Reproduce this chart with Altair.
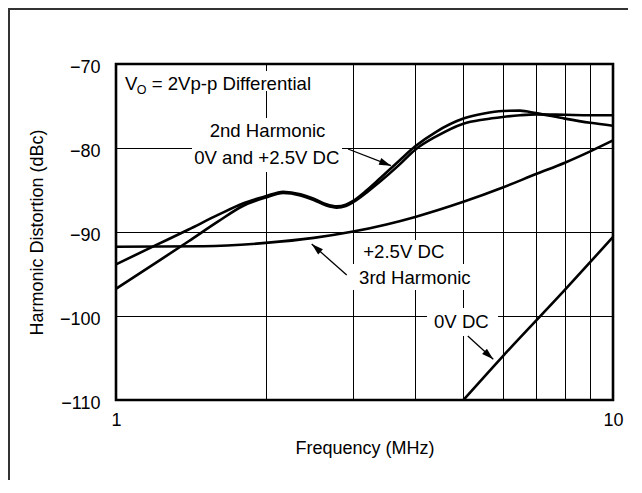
import altair as alt
import pandas as pd

FONT = "Liberation Sans, Arial, Helvetica, sans-serif"

# ---- data ----
grid_f = [1, 2, 3, 4, 5, 6, 7, 8, 9, 10]
y_ticks = [-110, -100, -90, -80, -70]

h2a_f = [1.0, 1.2, 1.4, 1.6, 1.8, 2.0, 2.17, 2.35, 2.5, 2.65, 2.78, 2.9, 3.0, 3.2, 3.4, 3.7, 4.0, 4.4, 5.0, 5.5, 6.0, 6.5, 7.0, 8.0, 9.0, 10.0]
h2a_db = [-93.85, -91.6, -89.7, -88.0, -86.6, -85.75, -85.2, -85.5, -86.05, -86.7, -86.95, -86.75, -86.3, -85.0, -83.6, -81.6, -79.8, -78.1, -76.5, -75.9, -75.6, -75.55, -75.85, -76.5, -77.0, -77.35]

h2b_f = [1.0, 1.2, 1.4, 1.6, 1.8, 2.0, 2.17, 2.35, 2.5, 2.65, 2.78, 2.9, 3.0, 3.2, 3.4, 3.7, 4.0, 4.4, 5.0, 5.5, 6.0, 6.5, 7.0, 8.0, 9.0, 10.0]
h2b_db = [-96.75, -93.7, -91.1, -88.8, -86.9, -85.9, -85.35, -85.65, -86.2, -86.85, -87.1, -86.9, -86.45, -85.25, -84.0, -82.1, -80.2, -78.65, -77.1, -76.6, -76.3, -76.1, -76.0, -76.05, -76.1, -76.1]

h3p_f = [1.0, 1.5, 2.0, 2.5, 3.0, 3.5, 4.0, 5.0, 6.0, 7.0, 8.0, 9.0, 10.0]
h3p_db = [-91.75, -91.7, -91.3, -90.7, -89.95, -89.1, -88.2, -86.4, -84.7, -83.1, -81.75, -80.4, -79.1]

h3z_f = [5.0, 6.0, 8.0, 10.0]
h3z_db = [-110.0, -104.8, -96.9, -90.6]

# annotation texts (centered), positions in data units
lab_text = ["2nd Harmonic", "0V and +2.5V DC", "+2.5V DC", "3rd Harmonic", "0V DC"]
lab_f = [2.018, 2.011, 3.793, 3.993, 4.953]
lab_db = [-78.73, -81.90, -93.13, -96.19, -101.46]

# white boxes behind annotation text
box_f1 = [1.0187, 1.510, 1.422, 3.069, 2.985, 4.225]
box_f2 = [2.526, 2.696, 2.849, 4.699, 5.302, 5.870]
box_db1 = [-70.83, -76.43, -79.64, -90.95, -93.81, -99.05]
box_db2 = [-73.21, -79.64, -82.86, -93.81, -96.90, -102.38]

# arrows: start -> tip
arr_f1 = [2.93, 2.912, 5.103]
arr_db1 = [-80.12, -95.12, -102.38]
arr_f2 = [3.575, 2.476, 5.742]
arr_db2 = [-82.1, -91.43, -105.15]
arr_ang = [111.2, 311.5, 132.3]

# ---- tables ----
lines_df = pd.concat([
    pd.DataFrame({"f": h2a_f, "db": h2a_db, "s": "h2a"}),
    pd.DataFrame({"f": h2b_f, "db": h2b_db, "s": "h2b"}),
    pd.DataFrame({"f": h3p_f, "db": h3p_db, "s": "h3p"}),
    pd.DataFrame({"f": h3z_f, "db": h3z_db, "s": "h3z"}),
], ignore_index=True)
lab_df = pd.DataFrame({"f": lab_f, "db": lab_db, "t": lab_text})
box_df = pd.DataFrame({"f": box_f1, "f2": box_f2, "db": box_db1, "db2": box_db2})
arr_df = pd.DataFrame({"f": arr_f1, "db": arr_db1, "f2": arr_f2, "db2": arr_db2, "ang": arr_ang})
vo_df = pd.DataFrame({"f": [1.0426, 1.1798], "db": [-73.10, -73.10], "t": ["V", "= 2Vp-p Differential"]})
vo_sub_df = pd.DataFrame({"f": [1.1007], "db": [-73.57], "t": ["O"]})

xs = alt.Scale(type="log", domain=[1, 10], nice=False)
ys = alt.Scale(domain=[-110, -70], nice=False)

x_axis = alt.Axis(values=grid_f, format="d",
                  labelExpr="datum.value == 1 || datum.value == 10 ? datum.label : ''",
                  grid=True, gridColor="#000", gridWidth=1, ticks=False, domain=False,
                  labelFlush=False, labelOverlap=False,
                  labelPadding=11, labelFontSize=18, labelFont=FONT, labelColor="#000",
                  title="Frequency (MHz)", titleFontSize=18, titleFont=FONT, titleFontWeight="normal",
                  titleColor="#000", titleX=248.5, titleY=48, titleBaseline="middle", titleAlign="center")
y_axis = alt.Axis(values=y_ticks, grid=True, gridColor="#000", gridWidth=1, ticks=False, domain=False,
                  labelFlush=False, labelOverlap=False,
                  labelPadding=16, labelFontSize=18, labelFont=FONT, labelColor="#000", labelOffset=3,
                  title="Harmonic Distortion (dBc)", titleFontSize=18, titleFont=FONT, titleFontWeight="normal",
                  titleColor="#000", titleX=-79, titleY=168, titleBaseline="middle", titleAlign="center",
                  titleAngle=270)


def X(field):
    return alt.X(field, scale=xs, axis=x_axis, title="Frequency (MHz)")


def Y(field):
    return alt.Y(field, scale=ys, axis=y_axis, title="Harmonic Distortion (dBc)")


boxes = alt.Chart(box_df).mark_rect(color="white", opacity=1).encode(
    x=X("f:Q"), x2="f2:Q", y=Y("db:Q"), y2="db2:Q")

curves = alt.Chart(lines_df).mark_line(color="black", strokeWidth=2.6, interpolate="monotone").encode(
    x=X("f:Q"), y=Y("db:Q"), detail="s:N")

arrow_lines = alt.Chart(arr_df).mark_rule(color="black", strokeWidth=1.3).encode(
    x=X("f:Q"), x2="f2:Q", y=Y("db:Q"), y2="db2:Q")

arrow_heads = alt.Chart(arr_df).mark_point(
    shape="M0,0 L-0.3,1 L0.3,1 Z", filled=True, color="black", opacity=1, size=560, strokeWidth=0).encode(
    x=X("f2:Q"), y=Y("db2:Q"), angle=alt.Angle("ang:Q", scale=None))

labels = alt.Chart(lab_df).mark_text(font=FONT, fontSize=18.6, color="black", align="center",
                                     baseline="alphabetic").encode(
    x=X("f:Q"), y=Y("db:Q"), text="t:N")

vo = alt.Chart(vo_df).mark_text(font=FONT, fontSize=18.6, color="black", align="left",
                                baseline="alphabetic").encode(
    x=X("f:Q"), y=Y("db:Q"), text="t:N")

vo_sub = alt.Chart(vo_sub_df).mark_text(font=FONT, fontSize=12.5, color="black", align="left",
                                        baseline="alphabetic").encode(
    x=X("f:Q"), y=Y("db:Q"), text="t:N")

frame = alt.Chart(pd.DataFrame({"k": [0]})).mark_rect(
    filled=False, stroke="#333", strokeWidth=2).encode(
    x=alt.value(-107), x2=alt.value(700), y=alt.value(-55), y2=alt.value(600))

chart = alt.layer(boxes, curves, arrow_lines, arrow_heads, labels, vo, vo_sub, frame).properties(
    width=497, height=336,
    padding={"left": 108, "top": 56, "right": 15, "bottom": 80},
    autosize=alt.AutoSizeParams(type="none"),
    background="white",
).configure_view(stroke="black", strokeWidth=2.6)

chart.save("out.html", embed_options={"renderer": "svg", "actions": False})
